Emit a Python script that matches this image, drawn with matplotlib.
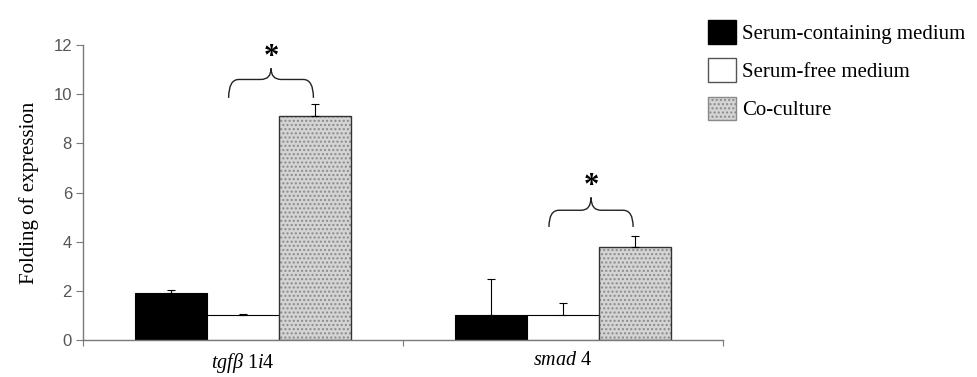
import numpy as np
import matplotlib
matplotlib.use("Agg")
import matplotlib.pyplot as plt
from matplotlib.patches import Patch, PathPatch
from matplotlib.path import Path

# expression data (fold change) for the two genes
genes = ["tgfb1i4", "smad4"]
conditions = ["Serum-containing medium", "Serum-free medium", "Co-culture"]
serum = [1.9, 1.0]
serum_err = [0.15, 1.5]
serum_free = [1.0, 1.0]
serum_free_err = [0.05, 0.5]
coculture = [9.1, 3.8]
coculture_err = [0.5, 0.45]

plt.rcParams["mathtext.fontset"] = "custom"
plt.rcParams["mathtext.rm"] = "Liberation Serif"
plt.rcParams["mathtext.it"] = "Liberation Serif:italic"

fig = plt.figure(figsize=(9.78, 3.77), dpi=100)
ax = fig.add_axes([0.0849, 0.098, 0.6544, 0.7825])

x = np.arange(len(genes))
w = 0.225
axis_grey = "#7a7a7a"

ax.bar(x - w, serum, w, color="black", edgecolor="black", linewidth=0.8,
       yerr=[[0, 0], serum_err], error_kw=dict(elinewidth=0.8, capsize=3, capthick=0.8, ecolor="black"))
ax.bar(x, serum_free, w, color="white", edgecolor="black", linewidth=0.8,
       yerr=[[0, 0], serum_free_err], error_kw=dict(elinewidth=0.8, capsize=3, capthick=0.8, ecolor="black"))
# dotted fill first, then a plain outline on top
ax.bar(x + w, coculture, w, color="#d4d4d4", edgecolor="#8a8a8a", linewidth=0, hatch="....")
ax.bar(x + w, coculture, w, fill=False, edgecolor="#333333", linewidth=1.0,
       yerr=[[0, 0], coculture_err], error_kw=dict(elinewidth=0.8, capsize=3, capthick=0.8, ecolor="black"))


def brace(ax, x0, x1, ybot, ymid, ytop):
    xm = (x0 + x1) / 2
    r = (x1 - x0) * 0.12
    verts = [(x0, ybot), (x0, ymid), (x0 + r, ymid),
             (xm - r, ymid), (xm, ymid), (xm, ytop),
             (xm, ymid), (xm + r, ymid),
             (x1 - r, ymid), (x1, ymid), (x1, ybot)]
    codes = [Path.MOVETO, Path.CURVE3, Path.CURVE3,
             Path.LINETO, Path.CURVE3, Path.CURVE3,
             Path.CURVE3, Path.CURVE3,
             Path.LINETO, Path.CURVE3, Path.CURVE3]
    ax.add_patch(PathPatch(Path(verts, codes), fill=False, edgecolor="#222222", linewidth=1.0))
    ax.text(xm, ytop + 0.45, "*", fontsize=22, fontweight="bold", family="Liberation Serif",
            ha="center", va="center")


brace(ax, -0.045, 0.22, 9.85, 10.6, 11.05)
brace(ax, 0.956, 1.219, 4.6, 5.28, 5.8)

ax.set_xlim(-0.5, 1.5)
ax.set_ylim(0, 12)
ax.set_yticks(range(0, 13, 2))
ax.set_xticks([-0.5, 0.5, 1.5])
ax.set_xticklabels([])
ax.set_xticks(x, [r"$\mathit{tgf\beta}$ 1$\mathit{i}$4", r"$\mathit{smad}$ 4"], minor=True)
for t in ax.get_xticklabels(minor=True):
    t.set_family("Liberation Serif")
ax.tick_params(axis="x", which="minor", length=0, pad=8, labelsize=14.5)
ax.tick_params(axis="x", which="major", length=4, color=axis_grey, direction="out")
ax.tick_params(axis="y", length=5, color=axis_grey, labelsize=12, labelcolor="#555555", pad=3)
for t in ax.get_yticklabels():
    t.set_family("Liberation Sans")

for s in ["top", "right"]:
    ax.spines[s].set_visible(False)
for s in ["left", "bottom"]:
    ax.spines[s].set_color(axis_grey)
    ax.spines[s].set_linewidth(1.0)

ax.set_ylabel("Folding of expression", family="Liberation Serif", fontsize=15, labelpad=10)

handles = [Patch(facecolor="black", edgecolor="black"),
           Patch(facecolor="white", edgecolor="#555555"),
           Patch(facecolor="#d4d4d4", edgecolor="#8a8a8a", hatch="....")]
fig.legend(handles, conditions, loc="upper left", bbox_to_anchor=(0.709, 0.985),
           frameon=False, prop=dict(family="Liberation Serif", size=15),
           handlelength=1.35, handleheight=1.35, handletextpad=0.3, labelspacing=0.7,
           borderpad=0.2)

fig.savefig("out.png", dpi=100)
